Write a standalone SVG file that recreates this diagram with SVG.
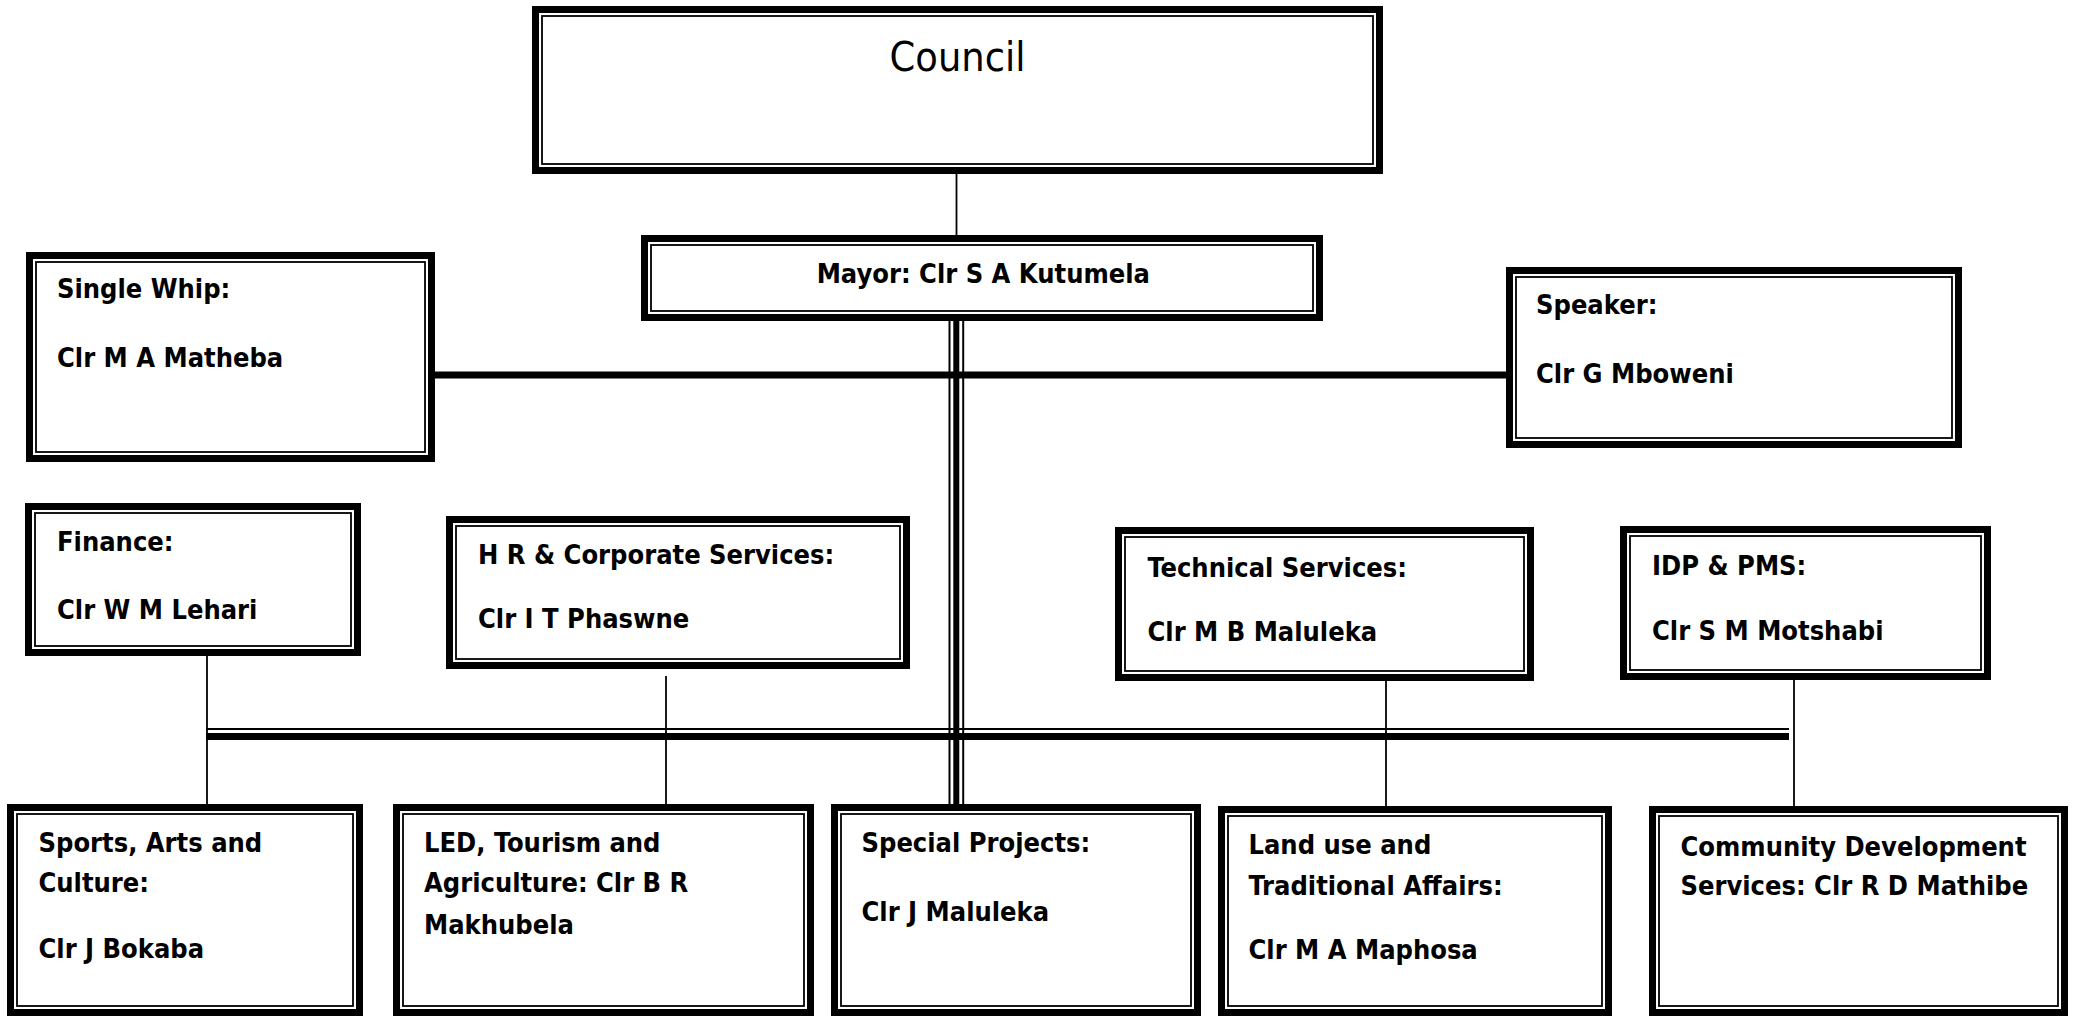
<svg xmlns="http://www.w3.org/2000/svg" width="2078" height="1016" viewBox="0 0 2078 1016">
<style>
.thick{fill:#fff;stroke:#000;stroke-width:7}
.thin{fill:none;stroke:#000;stroke-width:1.8}
.t{font-family:"DejaVu Sans Condensed","DejaVu Sans",sans-serif;font-weight:bold;font-size:27px;fill:#000}
.title{font-family:"DejaVu Sans Condensed","DejaVu Sans",sans-serif;font-size:41px;fill:#000}
.c1{stroke:#000;stroke-width:1.8;fill:none}
.c7{stroke:#000;stroke-width:7;fill:none}
.c6{stroke:#000;stroke-width:6;fill:none}
.c2{stroke:#000;stroke-width:2;fill:none}
</style>
<rect width="2078" height="1016" fill="#fff"/>
<g id="connectors">
<line class="c1" x1="956.5" y1="174" x2="956.5" y2="235"/>
<line class="c7" x1="435" y1="375" x2="1506" y2="375"/>
<line class="c2" x1="206" y1="729" x2="1789" y2="729"/>
<line class="c7" x1="206" y1="736.5" x2="1789" y2="736.5"/>
<line class="c2" x1="949.5" y1="321" x2="949.5" y2="804"/>
<line class="c6" x1="956.3" y1="321" x2="956.3" y2="804"/>
<line class="c2" x1="963.2" y1="321" x2="963.2" y2="804"/>
<line class="c1" x1="207" y1="646" x2="207" y2="804"/>
<line class="c1" x1="666" y1="676" x2="666" y2="804"/>
<line class="c1" x1="1386" y1="681" x2="1386" y2="806"/>
<line class="c1" x1="1794" y1="680" x2="1794" y2="806"/>
</g>
<g id="council">
<rect class="thick" x="535.5" y="9.5" width="844" height="161"/>
<rect class="thin" x="542" y="16" width="831" height="148"/>
<text class="title" x="957.5" y="70.7" text-anchor="middle">Council</text>
</g>
<g id="mayor">
<rect class="thick" x="644.5" y="238.5" width="675" height="79"/>
<rect class="thin" x="651" y="245" width="662" height="66"/>
<text class="t" x="816.7" y="282.7">Mayor: Clr S A Kutumela</text>
</g>
<g id="single-whip">
<rect class="thick" x="29.5" y="255.5" width="402" height="203"/>
<rect class="thin" x="36" y="262" width="389" height="190"/>
<text class="t" x="57" y="298">Single Whip:</text>
<text class="t" x="57" y="367">Clr M A Matheba</text>
</g>
<g id="speaker">
<rect class="thick" x="1509.5" y="270.5" width="449" height="174"/>
<rect class="thin" x="1516" y="277" width="436" height="161"/>
<text class="t" x="1536" y="314">Speaker:</text>
<text class="t" x="1536" y="382.5">Clr G Mboweni</text>
</g>
<g id="finance">
<rect class="thick" x="28.5" y="506.5" width="329" height="146"/>
<rect class="thin" x="35" y="513" width="316" height="133"/>
<text class="t" x="57" y="551">Finance:</text>
<text class="t" x="57" y="619">Clr W M Lehari</text>
</g>
<g id="hr">
<rect class="thick" x="449.5" y="519.5" width="457" height="146"/>
<rect class="thin" x="456" y="526" width="444" height="133"/>
<text class="t" x="478" y="564">H R &amp; Corporate Services:</text>
<text class="t" x="478" y="627.7">Clr I T Phaswne</text>
</g>
<g id="technical">
<rect class="thick" x="1118.5" y="530.5" width="412" height="147"/>
<rect class="thin" x="1125" y="537" width="399" height="134"/>
<text class="t" x="1147.5" y="577">Technical Services:</text>
<text class="t" x="1147.5" y="641">Clr M B Maluleka</text>
</g>
<g id="idp">
<rect class="thick" x="1623.5" y="529.5" width="364" height="147"/>
<rect class="thin" x="1630" y="536" width="351" height="134"/>
<text class="t" x="1652" y="575">IDP &amp; PMS:</text>
<text class="t" x="1652" y="640">Clr S M Motshabi</text>
</g>
<g id="sports">
<rect class="thick" x="10.5" y="807.5" width="349" height="205"/>
<rect class="thin" x="17" y="814" width="336" height="192"/>
<text class="t" x="38.5" y="851.5">Sports, Arts and</text>
<text class="t" x="38.5" y="892">Culture:</text>
<text class="t" x="38.5" y="957.5">Clr J Bokaba</text>
</g>
<g id="led">
<rect class="thick" x="396.5" y="807.5" width="414" height="205"/>
<rect class="thin" x="403" y="814" width="401" height="192"/>
<text class="t" x="424" y="851.5">LED, Tourism and</text>
<text class="t" x="424" y="892">Agriculture: Clr B R</text>
<text class="t" x="424" y="933.5">Makhubela</text>
</g>
<g id="special-projects">
<rect class="thick" x="834.5" y="807.5" width="363" height="205"/>
<rect class="thin" x="841" y="814" width="350" height="192"/>
<text class="t" x="861.5" y="851.5">Special Projects:</text>
<text class="t" x="861.5" y="920.5">Clr J Maluleka</text>
</g>
<g id="land-use">
<rect class="thick" x="1221.5" y="809.5" width="387" height="203"/>
<rect class="thin" x="1228" y="816" width="374" height="190"/>
<text class="t" x="1248.5" y="854">Land use and</text>
<text class="t" x="1248.5" y="895">Traditional Affairs:</text>
<text class="t" x="1248.5" y="959">Clr M A Maphosa</text>
</g>
<g id="community">
<rect class="thick" x="1652.5" y="809.5" width="412" height="203"/>
<rect class="thin" x="1659" y="816" width="399" height="190"/>
<text class="t" x="1680.5" y="856">Community Development</text>
<text class="t" x="1680.5" y="895">Services: Clr R D Mathibe</text>
</g>
</svg>
